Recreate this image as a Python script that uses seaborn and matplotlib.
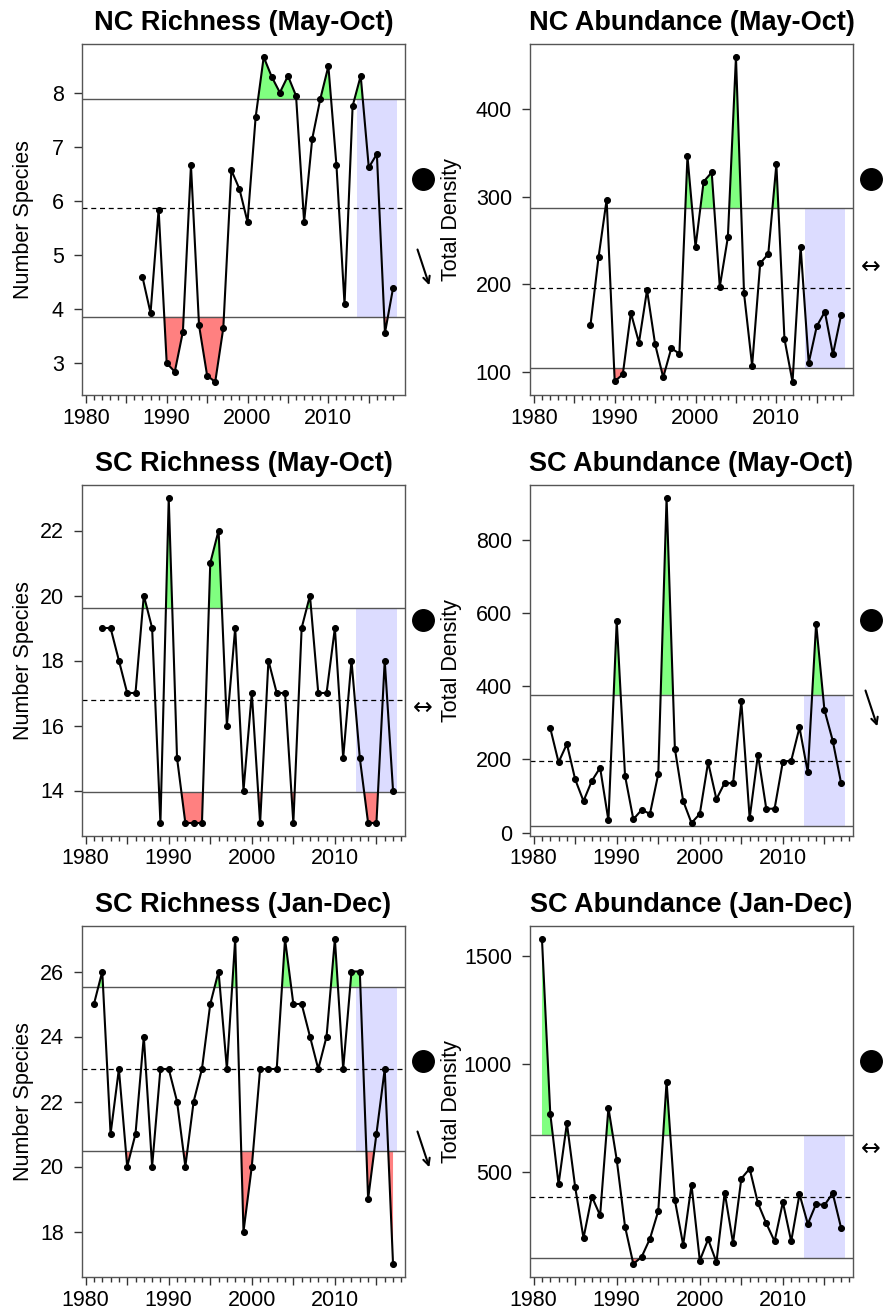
import numpy as np
import pandas as pd
import matplotlib
matplotlib.use("Agg")
import matplotlib.pyplot as plt
import seaborn as sns

sns.set_style("ticks")
plt.rcParams["font.family"] = ["Liberation Sans", "DejaVu Sans"]
plt.rcParams["text.color"] = "black"
plt.rcParams["axes.labelcolor"] = "black"
plt.rcParams["xtick.color"] = "black"
plt.rcParams["ytick.color"] = "black"

# ---- data ----
nc_years = list(range(1987, 2019))
sc_years = list(range(1982, 2018))
sc_all_years = list(range(1981, 2018))

nc_rich = [4.59, 3.92, 5.84, 2.99, 2.83, 3.57, 6.66, 3.69, 2.76, 2.64, 3.64,
           6.57, 6.22, 5.61, 7.55, 8.67, 8.30, 8.01, 8.32, 7.95, 5.61, 7.15,
           7.89, 8.50, 6.66, 4.08, 7.76, 8.32, 6.62, 6.87, 3.55, 4.38]
nc_abund = [153.5, 230.9, 296.4, 89.5, 97.5, 167.6, 133.7, 193.5, 131.8, 94.1,
            127.2, 121.1, 345.9, 242.7, 317, 327.6, 197.3, 253.7, 459, 189.7,
            107.4, 224, 234.7, 336.8, 137.9, 88.8, 243, 110.5, 152.4, 168.8,
            120.4, 164.6]
sc_rich = [19, 19, 18, 17, 17, 20, 19, 13, 23, 15, 13, 13, 13, 21, 22, 16, 19,
           14, 17, 13, 18, 17, 17, 13, 19, 20, 17, 17, 19, 15, 18, 15, 13, 13,
           18, 14]
sc_abund = [285, 192, 242, 145, 86, 141, 177, 33, 578, 155, 36, 62, 51, 160,
            914, 229, 86, 26, 51, 192, 91, 136, 134, 358, 39, 213, 65, 65, 194,
            196, 287, 164, 571, 335, 251, 136]
sc_rich_yr = [25, 26, 21, 23, 20, 21, 24, 20, 23, 23, 22, 20, 22, 23, 25, 26,
              23, 27, 18, 20, 23, 23, 23, 27, 25, 25, 24, 23, 24, 27, 23, 26,
              26, 19, 21, 23, 17]
sc_abund_yr = [1577, 769, 443, 725, 429, 194, 386, 299, 796, 556, 247, 74, 107,
               191, 319, 917, 369, 162, 440, 90, 188, 83, 404, 171, 469, 515,
               355, 262, 179, 360, 179, 397, 259, 352, 346, 401, 242]

titles = ["NC Richness (May-Oct)", "NC Abundance (May-Oct)",
          "SC Richness (May-Oct)", "SC Abundance (May-Oct)",
          "SC Richness (Jan-Dec)", "SC Abundance (Jan-Dec)"]
ylabels = ["Number Species", "Total Density"] * 3
yticks = [[3, 4, 5, 6, 7, 8], [100, 200, 300, 400],
          [14, 16, 18, 20, 22], [0, 200, 400, 600, 800],
          [18, 20, 22, 24, 26], [500, 1000, 1500]]
xranges = [(1981, 2018), (1981, 2018), (1981, 2017),
           (1981, 2017), (1981, 2017), (1981, 2017)]
trend = ["down", "flat", "flat", "down", "down", "flat"]

series = [(nc_years, nc_rich), (nc_years, nc_abund),
          (sc_years, sc_rich), (sc_years, sc_abund),
          (sc_all_years, sc_rich_yr), (sc_all_years, sc_abund_yr)]

W, H = 885, 1312
fig = plt.figure(figsize=(W / 100, H / 100), dpi=100)
lefts = [82, 530]
rows = [(44, 395), (485, 836), (926, 1277)]
aw = 323

for i, (yrs, vals) in enumerate(series):
    r, c = divmod(i, 2)
    top, bot = rows[r]
    ax = fig.add_axes([lefts[c] / W, (H - bot) / H, aw / W, (bot - top) / H])

    x = np.array(yrs, dtype=float)
    y = np.array(vals, dtype=float)
    m = y.mean()
    s = y.std(ddof=1)
    hi, lo = m + s, m - s

    # recent five-year window
    ax.fill_between([x[-1] - 4.5, x[-1] + 0.5], lo, hi, color="#DCDCFF",
                    lw=0, zorder=0)
    ax.fill_between(x, y, hi, where=y >= hi, interpolate=True,
                    color="#80FF80", lw=0, zorder=1)
    ax.fill_between(x, y, lo, where=y <= lo, interpolate=True,
                    color="#FF8080", lw=0, zorder=1)
    ax.axhline(hi, color="#555555", lw=1, zorder=2)
    ax.axhline(lo, color="#555555", lw=1, zorder=2)
    ax.axhline(m, color="black", lw=0.9, ls=(0, (4, 3)), zorder=2)

    df = pd.DataFrame({"year": x, "value": y})
    sns.lineplot(data=df, x="year", y="value", ax=ax, color="black", lw=1.5,
                 marker="o", markersize=4.3, markeredgecolor="black",
                 zorder=3)

    x0, x1 = xranges[i]
    xp = 0.04 * (x1 - x0)
    ax.set_xlim(x0 - xp, x1 + xp)
    yp = 0.04 * (y.max() - y.min())
    ax.set_ylim(y.min() - yp, y.max() + yp)

    ax.set_xticks(np.arange(1980, 2019, 1), minor=True)
    ax.set_xticks([1980, 1985, 1990, 1995, 2000, 2005, 2010, 2015])
    ax.set_xticklabels(["1980", "", "1990", "", "2000", "", "2010", ""])
    ax.set_yticks(yticks[i])
    ax.tick_params(axis="both", which="major", labelsize=15.5, length=6,
                   width=1, color="#333333")
    ax.tick_params(axis="x", which="major", pad=3)
    ax.tick_params(axis="x", which="minor", length=3.5, width=1,
                   color="#333333")
    ax.tick_params(axis="y", which="major", pad=7)

    for sp in ax.spines.values():
        sp.set_color("#555555")
        sp.set_linewidth(1)

    ax.set_xlabel("")
    ax.set_ylabel(ylabels[i], fontsize=15.5)
    ax.yaxis.set_label_coords(-0.15 if c == 0 else -0.212, 0.5)
    ax.set_title(titles[i], fontsize=19.5, fontweight="bold", pad=10)

    # status / trend symbols in the right margin
    ax.plot([1.056], [0.615], marker="o", markersize=15.5, color="black",
            transform=ax.transAxes, clip_on=False)
    if trend[i] == "flat":
        ax.text(1.056, 0.365, "\u2194", transform=ax.transAxes, ha="center",
                va="center", fontsize=17, family="DejaVu Sans")
    else:
        ax.annotate("", xy=(1.078, 0.305), xytext=(1.036, 0.422),
                    xycoords="axes fraction", annotation_clip=False,
                    arrowprops=dict(arrowstyle="->", color="black", lw=1.5,
                                    mutation_scale=12))

fig.savefig("out.png", dpi=100)
